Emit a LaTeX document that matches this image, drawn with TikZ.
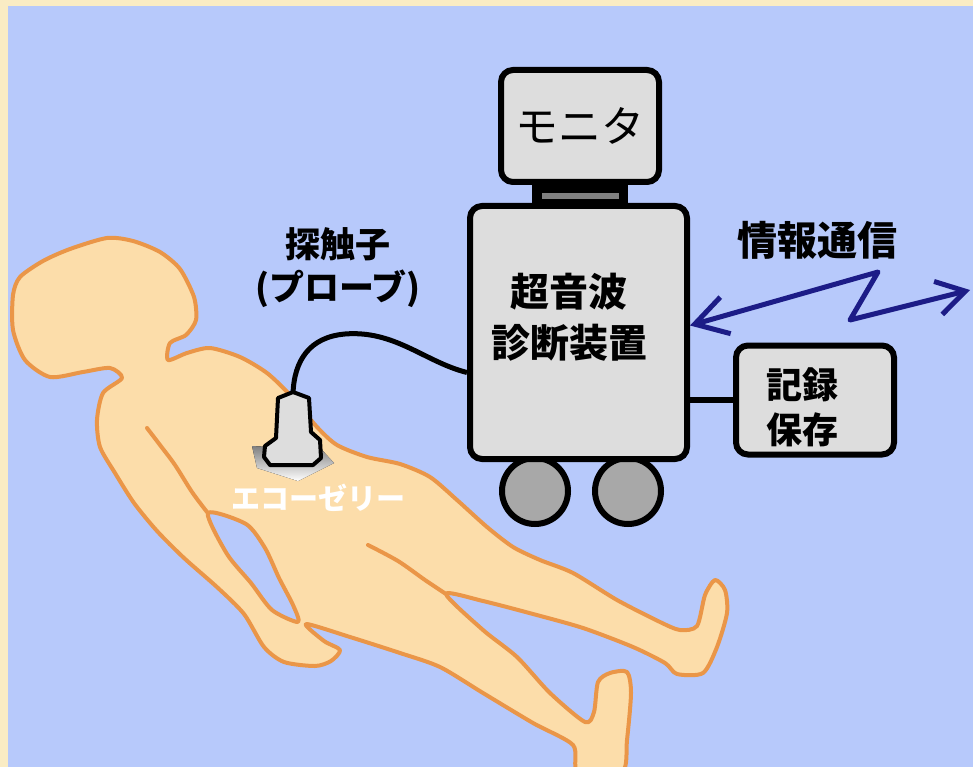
\documentclass[tikz,border=0pt]{standalone}
\usepackage{fontspec}
\setmainfont{Noto Sans CJK JP}
\usetikzlibrary{arrows.meta}
\definecolor{bgblue}{RGB}{183,201,251}
\definecolor{frame}{RGB}{250,236,196}
\definecolor{skin}{RGB}{252,221,170}
\definecolor{skinline}{RGB}{234,150,72}
\definecolor{panel}{RGB}{221,221,221}
\definecolor{wheelgray}{RGB}{168,168,168}
\definecolor{shade}{RGB}{130,137,155}
\definecolor{navy}{RGB}{28,28,135}
\tikzset{
  box/.style={draw=black, line width=6pt, fill=panel, rounded corners=12pt, inner sep=0pt},
  tag/.style={font=\bfseries\fontsize{37}{44}\selectfont, align=center},
  body/.style={draw=skinline, line width=4pt, fill=skin, line join=round},
  crease/.style={draw=skinline, line width=4pt, line cap=round},
}
\begin{document}
\begin{tikzpicture}[x=1pt,y=-1pt]
  \fill[frame] (0,0) rectangle (973,767);
  \fill[bgblue] (8,6) rectangle (973,767);
  \useasboundingbox (0,0) rectangle (973,767);

  \draw[body] plot[smooth cycle, tension=0.45] coordinates {
    (20,277) (43,261) (70,249) (107,238) (133,241) (160,252) (180,269)
    (194,297) (196,320) (186,335) (170,343) (168,360) (187,353) (210,348)
    (240,357) (267,373) (290,395) (317,427) (337,445) (367,457) (400,464)
    (430,477) (457,500) (487,527) (513,547) (540,560) (573,573) (617,600)
    (660,622) (680,630) (697,626) (705,595) (715,580) (725,590) (727,613)
    (717,647) (703,673) (677,674) (665,663) (633,647) (583,628) (533,614)
    (483,601) (446,594)
    (483,630) (517,657) (550,693) (585,722) (594,712) (598,682) (610,673)
    (627,672) (631,693) (627,740) (622,772) (578,772) (573,745) (533,723)
    (483,693) (440,667) (400,653) (350,637) (306,624)
    (324,641) (340,650)
    (331,661) (315,666) (284,662) (264,647) (244,614) (218,588) (184,558)
    (157,531) (134,503) (115,473) (100,447) (97,420) (103,393) (122,378)
    (110,368) (83,372) (50,377) (25,360) (13,330) (13,295)};
  \draw[body, fill=bgblue] plot[smooth cycle, tension=0.45] coordinates {
    (208,513) (246,524) (265,548) (279,578) (293,605) (298,622)
    (272,610) (251,583) (227,554)};
  \draw[crease] plot[smooth, tension=0.5] coordinates
    {(147,428) (160,445) (175,465) (192,492) (207,512)};
  \draw[crease] plot[smooth, tension=0.5] coordinates
    {(368,545) (398,561) (425,580) (446,594)};

  \fill[shade] (252,446) -- (257,468) -- (298,481) -- (334,463) -- (322,450) -- cycle;
  \draw[black, line width=4pt, fill=panel, line join=round]
    (278,398) -- (293,392) -- (309,398) -- (311,432) -- (320,440) -- (321,458)
    -- (313,465) -- (270,465) -- (264,457) -- (265,446) -- (276,438) -- cycle;
  \coordinate (probetop) at (293,394);

  \draw[black, line width=6pt, fill=wheelgray] (535,491) circle (33);
  \draw[black, line width=6pt, fill=wheelgray] (628,491) circle (33);
  \fill[black] (532,183) rectangle (628,206);
  \fill[gray] (542,193) rectangle (619,199);

  \node[box, minimum width=158pt, minimum height=112pt,
        font=\fontsize{43}{50}\selectfont] (monitor) at (580,126) {モニタ};
  \node[box, minimum width=217pt, minimum height=253pt] (unit) at (578.5,332.5) {};
  \node[tag, font=\bfseries\fontsize{39}{51}\selectfont] (unittext) at (569,317) {超音波\\診断装置};
  \node[box, minimum width=158pt, minimum height=109pt] (storage) at (815,400) {};
  \node[tag, font=\bfseries\fontsize{36}{45}\selectfont] (storagetext) at (802,407) {記録\\保存};

  \node[tag, font=\bfseries\fontsize{35}{43}\selectfont] (probelabel) at (338,268) {探触子\\(プローブ)};
  \node[tag, font=\bfseries\fontsize{40}{48}\selectfont] (netlabel) at (817,240) {情報通信};
  \node[tag, text=white, font=\bfseries\fontsize{29}{34}\selectfont] (gellabel) at (318,498) {エコーゼリー};

  \draw[black, line width=5pt] ([yshift=-40pt]unit.west)
    .. controls (425,362) and (395,330) .. (345,334)
    .. controls (310,337) and (294,360) .. (probetop);
  \draw[black, line width=6pt] (unit.east |- storage.west) -- (storage.west);

  \coordinate (zigtop) at (878,272);
  \coordinate (zigbot) at (850,320);
  \coordinate (farend) at (970,290);
  \draw[navy, line width=5pt, line join=round,
        {Straight Barb[length=32pt,width=38pt]}-{Straight Barb[length=28pt,width=34pt]}]
    ([yshift=7pt]unit.east) -- (zigtop) -- (zigbot) -- (farend);
\end{tikzpicture}
\end{document}
